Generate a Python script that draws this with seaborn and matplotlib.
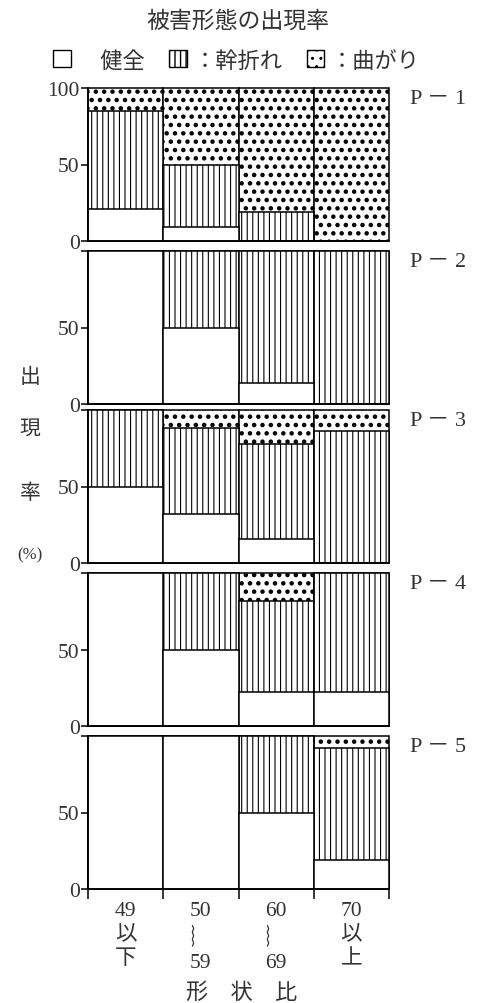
import matplotlib
matplotlib.use("Agg")
import matplotlib.pyplot as plt
import seaborn as sns
import pandas as pd
from matplotlib.patches import Patch

# ---- data ----
categories = ["49\n以\n下", "50\n︴\n59", "60\n︴\n69", "70\n以\n上"]
plots = ["P － 1", "P － 2", "P － 3", "P － 4", "P － 5"]
healthy = [[21, 9, 0, 0], [100, 50, 14, 0], [50, 32, 16, 0], [100, 50, 22, 22], [100, 100, 50, 19]]
broken = [[64, 41, 19, 0], [0, 50, 86, 100], [50, 56, 62, 86], [0, 50, 60, 78], [0, 0, 50, 73]]
bent = [[15, 50, 81, 100], [0, 0, 0, 0], [0, 12, 22, 14], [0, 0, 18, 0], [0, 0, 0, 8]]
series_labels = ["\u3000健全", "：幹折れ", "：曲がり"]
yticks = [0, 50, 100]

sns.set_theme(style="white")
plt.rcParams["font.family"] = ["Liberation Serif", "Noto Sans CJK JP", "DejaVu Sans"]
plt.rcParams["hatch.color"] = "black"
TXT = "#333333"

fig = plt.figure(figsize=(4.78, 10.04), dpi=100)
H = 1004.0
zero_y = [242, 405, 564, 727, 890]
left = 88 / 478
width = (389 - 88) / 478
height = 153 / H

for i in range(5):
    ax = fig.add_axes([left, 1 - zero_y[i] / H, width, height])
    df = pd.DataFrame({"cat": categories, "h": healthy[i], "b": broken[i], "d": bent[i]})
    df["top"] = df["h"] + df["b"] + df["d"]
    df["mid"] = df["h"] + df["b"]
    for col, hatch, hlw in [("top", "..", 2.0), ("mid", "|||", 0.8), ("h", None, 0.8)]:
        with plt.rc_context({"hatch.linewidth": hlw}):
            sns.barplot(data=df, x="cat", y=col, order=categories, color="white",
                        saturation=1, edgecolor="black", linewidth=1.1, width=1.0,
                        hatch=hatch, errorbar=None, ax=ax)
    for p in ax.patches:
        p.set_clip_on(False)
    ax.set_xlim(-0.5, 3.5)
    ax.set_ylim(0, 100)
    ax.set_xlabel("")
    ax.set_ylabel("")
    for s in ["top", "right"]:
        ax.spines[s].set_visible(False)
    for s in ["left", "bottom"]:
        ax.spines[s].set_color("black")
        ax.spines[s].set_linewidth(1.2)
    ax.set_yticks(yticks)
    ax.set_yticklabels(["0", "50", "100" if i == 0 else ""])
    ax.tick_params(axis="y", left=True, direction="out", length=5, width=1.1,
                   pad=1, labelsize=15.5, colors="black")
    ax.tick_params(axis="y", labelcolor=TXT)
    if i < 4:
        ax.set_xticks([])
    else:
        ax.set_xticks([-0.5, 0.5, 1.5, 2.5, 3.5])
        ax.set_xticklabels([""] * 5)
        ax.tick_params(axis="x", which="major", bottom=True, direction="out",
                       length=7, width=1.1, colors="black")
        ax.set_xticks([0, 1, 2, 3], minor=True)
        ax.set_xticklabels(categories, minor=True, fontsize=15.5, linespacing=1.35,
                           color=TXT)
        ax.tick_params(axis="x", which="minor", bottom=True, length=0, pad=9)
    ax.text(1.07, 0.93, plots[i], transform=ax.transAxes, fontsize=16,
            ha="left", va="center", color=TXT)

fig.text(0.498, 1 - 22 / H, "被害形態の出現率", ha="center", va="center",
         fontsize=16.5, color=TXT)

handles = [Patch(facecolor="white", edgecolor="black", linewidth=1.0),
           Patch(facecolor="white", edgecolor="black", linewidth=1.0, hatch="|||"),
           Patch(facecolor="white", edgecolor="black", linewidth=1.0, hatch="..")]
fig.legend(handles, series_labels, loc="center", bbox_to_anchor=(0.495, 1 - 62 / H),
           ncol=3, frameon=False, fontsize=16, handlelength=0.8, handleheight=0.8,
           columnspacing=1.1, handletextpad=0.3, labelcolor=TXT)

for ch, y, fs in [("出", 378, 15), ("現", 430, 15), ("率", 494, 15), ("(%)", 555, 12)]:
    fig.text(30 / 478, 1 - y / H, ch, ha="center", va="center", fontsize=fs,
             color=TXT)

fig.text(242 / 478, 1 - 993 / H, "形\u3000状\u3000比", ha="center", va="center",
         fontsize=16, color=TXT)

fig.savefig("out.png", dpi=100)
